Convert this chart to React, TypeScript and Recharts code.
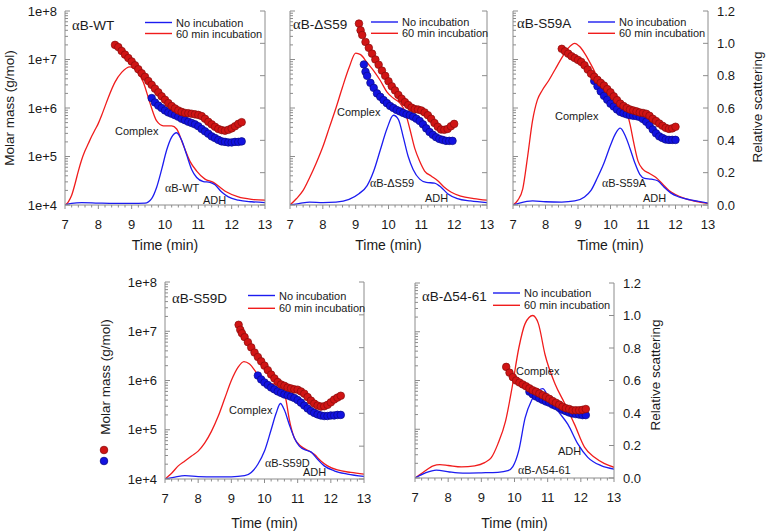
import React from 'react';
import { ComposedChart, Line, Scatter, XAxis, YAxis } from 'recharts';

type P = [number, number];

// ---------- αB-WT ----------
// relative light scattering (elution time in min, normalised signal)
const wtLightNoInc: P[] = [[7.0,0.0],[7.2,0.01],[7.5,0.015],[8.0,0.012],[8.5,0.01],[9.0,0.01],[9.4,0.012],[9.6,0.04],[9.75,0.11],[9.9,0.22],[10.05,0.34],[10.2,0.42],[10.35,0.447],[10.5,0.40],[10.65,0.31],[10.8,0.22],[10.95,0.17],[11.15,0.145],[11.35,0.14],[11.5,0.125],[11.7,0.08],[11.9,0.05],[12.2,0.03],[12.6,0.02],[13.0,0.015]];
const wtLight60: P[] = [[7.0,0.0],[7.1,0.02],[7.2,0.06],[7.3,0.13],[7.4,0.21],[7.5,0.28],[7.6,0.335],[7.7,0.38],[7.8,0.425],[7.9,0.465],[8.0,0.505],[8.1,0.555],[8.2,0.61],[8.3,0.665],[8.5,0.76],[8.7,0.82],[8.95,0.855],[9.15,0.83],[9.35,0.76],[9.55,0.63],[9.75,0.52],[9.95,0.49],[10.2,0.49],[10.35,0.47],[10.55,0.37],[10.75,0.27],[10.95,0.21],[11.2,0.16],[11.45,0.14],[11.65,0.11],[11.85,0.08],[12.2,0.05],[12.6,0.035],[13.0,0.03]];
// molar mass (g/mol)
const wtMassNoInc: P[] = [[9.6,1.6e6],[9.7,1.3e6],[9.8,1.12e6],[9.9,1.0e6],[10.0,8.9e5],[10.1,8.1e5],[10.2,7.6e5],[10.3,7.1e5],[10.4,6.6e5],[10.5,6.0e5],[10.6,5.6e5],[10.7,5.2e5],[10.8,4.9e5],[10.9,4.6e5],[11.0,4.2e5],[11.1,3.7e5],[11.2,3.3e5],[11.3,2.95e5],[11.4,2.6e5],[11.5,2.4e5],[11.6,2.2e5],[11.7,2.05e5],[11.8,2.0e5],[11.9,1.95e5],[12.0,1.95e5],[12.1,2.0e5],[12.2,2.0e5],[12.3,2.05e5]];
const wtMass60: P[] = [[8.5,2.0e7],[8.6,1.8e7],[8.7,1.5e7],[8.8,1.26e7],[8.9,1.07e7],[9.0,9.1e6],[9.1,7.6e6],[9.2,6.3e6],[9.3,5.2e6],[9.4,4.4e6],[9.5,3.6e6],[9.6,3.0e6],[9.7,2.5e6],[9.8,2.1e6],[9.9,1.74e6],[10.0,1.48e6],[10.1,1.26e6],[10.2,1.1e6],[10.3,9.8e5],[10.4,8.9e5],[10.5,8.3e5],[10.6,7.9e5],[10.7,7.8e5],[10.8,7.6e5],[10.9,7.4e5],[11.0,7.2e5],[11.1,6.8e5],[11.2,6.0e5],[11.3,5.2e5],[11.4,4.6e5],[11.5,4.1e5],[11.6,3.7e5],[11.7,3.5e5],[11.8,3.4e5],[11.9,3.55e5],[12.0,3.8e5],[12.1,4.2e5],[12.2,4.7e5],[12.3,5.1e5]];

// ---------- αB-ΔS59 ----------
const ds59LightNoInc: P[] = [[7.0,0.0],[7.3,0.01],[7.6,0.018],[8.0,0.015],[8.4,0.018],[8.8,0.035],[9.1,0.07],[9.35,0.12],[9.55,0.21],[9.75,0.34],[9.95,0.47],[10.15,0.555],[10.3,0.53],[10.45,0.42],[10.6,0.30],[10.75,0.22],[10.95,0.16],[11.15,0.14],[11.4,0.135],[11.6,0.11],[11.8,0.07],[12.1,0.04],[12.5,0.025],[13.0,0.015]];
const ds59Light60: P[] = [[7.0,0.0],[7.2,0.04],[7.4,0.09],[7.6,0.17],[7.8,0.26],[8.0,0.36],[8.2,0.48],[8.4,0.60],[8.6,0.73],[8.8,0.85],[9.0,0.94],[9.15,0.93],[9.35,0.88],[9.55,0.83],[9.75,0.77],[9.95,0.70],[10.15,0.66],[10.35,0.63],[10.5,0.58],[10.65,0.47],[10.8,0.35],[10.95,0.27],[11.1,0.21],[11.3,0.18],[11.5,0.15],[11.7,0.11],[11.9,0.08],[12.2,0.055],[12.6,0.04],[13.0,0.03]];
const ds59MassNoInc: P[] = [[9.25,7.9e6],[9.3,5.6e6],[9.35,4.6e6],[9.45,3.3e6],[9.55,2.6e6],[9.65,2.0e6],[9.75,1.7e6],[9.85,1.45e6],[9.95,1.26e6],[10.05,1.1e6],[10.15,1.0e6],[10.25,9.1e5],[10.35,8.5e5],[10.45,7.9e5],[10.55,7.4e5],[10.65,7.1e5],[10.75,6.6e5],[10.85,6.0e5],[10.95,5.4e5],[11.05,4.6e5],[11.15,3.8e5],[11.25,3.2e5],[11.35,2.8e5],[11.45,2.5e5],[11.55,2.3e5],[11.65,2.2e5],[11.75,2.1e5],[11.85,2.1e5],[11.95,2.1e5]];
const ds59Mass60: P[] = [[9.1,5.5e7],[9.15,4.0e7],[9.2,3.2e7],[9.3,2.3e7],[9.4,1.74e7],[9.5,1.32e7],[9.6,1.0e7],[9.7,7.8e6],[9.8,5.9e6],[9.9,4.6e6],[10.0,3.55e6],[10.1,2.8e6],[10.2,2.3e6],[10.3,1.86e6],[10.4,1.55e6],[10.5,1.32e6],[10.6,1.15e6],[10.7,1.02e6],[10.8,9.5e5],[10.9,9.3e5],[11.0,8.9e5],[11.1,8.1e5],[11.2,7.1e5],[11.3,6.0e5],[11.4,4.9e5],[11.5,4.1e5],[11.6,3.6e5],[11.7,3.55e5],[11.8,3.7e5],[11.9,4.2e5],[12.0,4.7e5]];

// ---------- αB-S59A ----------
const s59aLightNoInc: P[] = [[7.0,0.0],[7.2,0.012],[7.6,0.025],[8.0,0.02],[8.5,0.018],[8.9,0.025],[9.2,0.05],[9.4,0.09],[9.6,0.17],[9.8,0.26],[10.0,0.37],[10.15,0.44],[10.3,0.475],[10.45,0.43],[10.6,0.35],[10.75,0.26],[10.9,0.19],[11.05,0.165],[11.25,0.16],[11.45,0.15],[11.65,0.11],[11.85,0.075],[12.1,0.05],[12.5,0.03],[13.0,0.012]];
const s59aLight60: P[] = [[7.0,0.0],[7.15,0.03],[7.3,0.10],[7.45,0.30],[7.6,0.52],[7.75,0.65],[7.9,0.71],[8.1,0.77],[8.3,0.84],[8.5,0.91],[8.7,0.97],[8.9,1.0],[9.05,0.98],[9.2,0.94],[9.45,0.85],[9.7,0.75],[9.9,0.70],[10.1,0.66],[10.3,0.62],[10.5,0.57],[10.6,0.50],[10.7,0.40],[10.85,0.27],[11.0,0.22],[11.2,0.195],[11.4,0.17],[11.6,0.13],[11.8,0.09],[12.0,0.065],[12.3,0.04],[12.7,0.02],[13.0,0.01]];
const s59aMassNoInc: P[] = [[9.5,3.6e6],[9.6,2.8e6],[9.7,2.2e6],[9.8,1.78e6],[9.9,1.48e6],[10.0,1.23e6],[10.1,1.07e6],[10.2,9.3e5],[10.3,8.3e5],[10.4,7.8e5],[10.5,7.4e5],[10.6,7.1e5],[10.7,6.9e5],[10.8,6.8e5],[10.9,6.5e5],[11.0,5.9e5],[11.1,5.2e5],[11.2,4.4e5],[11.3,3.6e5],[11.4,3.0e5],[11.5,2.6e5],[11.6,2.4e5],[11.7,2.24e5],[11.8,2.2e5],[11.9,2.2e5],[12.0,2.2e5]];
const s59aMass60: P[] = [[8.5,1.66e7],[8.6,1.48e7],[8.7,1.32e7],[8.8,1.17e7],[8.9,1.07e7],[9.0,9.8e6],[9.1,8.9e6],[9.2,7.6e6],[9.3,6.2e6],[9.4,5.1e6],[9.5,4.4e6],[9.6,3.8e6],[9.7,3.3e6],[9.8,2.9e6],[9.9,2.45e6],[10.0,2.1e6],[10.1,1.74e6],[10.2,1.45e6],[10.3,1.23e6],[10.4,1.1e6],[10.5,1.0e6],[10.6,9.3e5],[10.7,8.9e5],[10.8,8.5e5],[10.9,8.1e5],[11.0,7.9e5],[11.1,7.6e5],[11.2,6.9e5],[11.3,6.0e5],[11.4,5.4e5],[11.5,4.8e5],[11.6,4.3e5],[11.7,3.9e5],[11.8,3.7e5],[11.9,3.8e5],[12.0,4.1e5]];

// ---------- αB-S59D ----------
const s59dLightNoInc: P[] = [[7.0,0.0],[7.3,0.012],[7.6,0.02],[8.0,0.015],[8.5,0.013],[9.0,0.013],[9.4,0.02],[9.6,0.04],[9.8,0.09],[10.0,0.17],[10.2,0.30],[10.35,0.40],[10.48,0.46],[10.6,0.42],[10.75,0.33],[10.9,0.25],[11.05,0.20],[11.25,0.175],[11.4,0.165],[11.6,0.12],[11.8,0.08],[12.1,0.05],[12.5,0.03],[13.0,0.016]];
const s59dLight60: P[] = [[7.0,0.0],[7.2,0.035],[7.4,0.08],[7.6,0.11],[7.8,0.14],[8.0,0.17],[8.2,0.22],[8.4,0.29],[8.6,0.38],[8.8,0.49],[9.0,0.60],[9.2,0.68],[9.38,0.715],[9.55,0.70],[9.75,0.65],[9.95,0.60],[10.15,0.58],[10.35,0.58],[10.55,0.56],[10.65,0.48],[10.75,0.36],[10.9,0.25],[11.1,0.20],[11.3,0.175],[11.5,0.15],[11.7,0.11],[11.9,0.08],[12.2,0.055],[12.6,0.04],[13.0,0.03]];
const s59dMassNoInc: P[] = [[9.8,1.26e6],[9.9,1.05e6],[10.0,9.1e5],[10.1,8.1e5],[10.2,7.2e5],[10.3,6.6e5],[10.4,6.0e5],[10.5,5.6e5],[10.6,5.2e5],[10.7,5.0e5],[10.8,4.7e5],[10.9,4.4e5],[11.0,4.0e5],[11.1,3.55e5],[11.2,3.1e5],[11.3,2.7e5],[11.4,2.4e5],[11.5,2.2e5],[11.6,2.05e5],[11.7,1.95e5],[11.8,1.9e5],[11.9,1.9e5],[12.0,1.95e5],[12.1,1.95e5],[12.2,2.0e5],[12.3,2.0e5]];
const s59dMass60: P[] = [[9.22,1.35e7],[9.27,1.07e7],[9.32,9.1e6],[9.4,7.6e6],[9.5,6.0e6],[9.6,4.7e6],[9.7,3.7e6],[9.8,3.0e6],[9.9,2.45e6],[10.0,2.0e6],[10.1,1.62e6],[10.2,1.32e6],[10.3,1.1e6],[10.4,9.3e5],[10.5,8.3e5],[10.6,7.8e5],[10.7,7.2e5],[10.8,6.9e5],[10.9,6.6e5],[11.0,6.5e5],[11.1,6.0e5],[11.2,5.4e5],[11.3,4.6e5],[11.4,3.9e5],[11.5,3.4e5],[11.6,3.1e5],[11.7,2.95e5],[11.8,3.0e5],[11.9,3.2e5],[12.0,3.6e5],[12.1,4.1e5],[12.2,4.5e5],[12.3,4.9e5]];

// ---------- αB-Δ54-61 ----------
const d5461LightNoInc: P[] = [[7.0,0.0],[7.3,0.03],[7.64,0.049],[8.04,0.037],[8.44,0.03],[9.0,0.032],[9.5,0.035],[9.8,0.045],[9.95,0.07],[10.13,0.17],[10.32,0.37],[10.52,0.48],[10.7,0.535],[10.85,0.55],[11.02,0.50],[11.32,0.41],[11.61,0.33],[11.91,0.21],[12.21,0.127],[12.61,0.076],[13.0,0.055]];
const d5461Light60: P[] = [[7.0,0.0],[7.25,0.035],[7.55,0.075],[7.75,0.082],[8.0,0.077],[8.4,0.068],[8.8,0.075],[9.1,0.095],[9.3,0.125],[9.5,0.21],[9.73,0.35],[9.93,0.56],[10.13,0.80],[10.32,0.95],[10.55,1.0],[10.72,0.95],[10.92,0.76],[11.22,0.58],[11.51,0.46],[11.81,0.33],[12.11,0.19],[12.41,0.127],[12.7,0.09],[13.0,0.066]];
const d5461MassNoInc: P[] = [[10.45,5.9e5],[10.55,5.2e5],[10.65,4.7e5],[10.75,4.3e5],[10.85,4.0e5],[10.95,3.7e5],[11.05,3.5e5],[11.15,3.2e5],[11.25,3.0e5],[11.35,2.75e5],[11.45,2.5e5],[11.55,2.35e5],[11.65,2.2e5],[11.75,2.1e5],[11.85,2.05e5],[11.95,2.0e5],[12.05,1.95e5],[12.15,1.95e5]];
const d5461Mass60: P[] = [[9.75,1.9e6],[9.85,1.45e6],[9.95,1.17e6],[10.05,1.0e6],[10.15,9.1e5],[10.25,8.3e5],[10.35,7.6e5],[10.45,6.9e5],[10.55,6.3e5],[10.65,5.9e5],[10.75,5.4e5],[10.85,5.0e5],[10.95,4.6e5],[11.05,4.2e5],[11.15,3.8e5],[11.25,3.5e5],[11.35,3.2e5],[11.45,2.9e5],[11.55,2.7e5],[11.65,2.6e5],[11.75,2.45e5],[11.85,2.45e5],[11.95,2.45e5],[12.05,2.5e5],[12.15,2.6e5]];

// axis ticks
const scatterTicks = [0, 0.2, 0.4, 0.6, 0.8, 1.0, 1.2];
const massDecades = [1e4, 1e5, 1e6, 1e7, 1e8];
const timeTicks: number[] = [];
for (let i = 0; i <= 30; i++) timeTicks.push(Math.round((7 + i * 0.2) * 10) / 10);
const massTicks: number[] = [];
massDecades.forEach((d, i) => {
  massTicks.push(d);
  if (i < massDecades.length - 1) for (let k = 2; k <= 9; k++) massTicks.push(d * k);
});

const FONT = '"Liberation Sans", Arial, sans-serif';
const SERIF = '"Liberation Serif", "Times New Roman", serif';
const INK = '#1a1a1a';
const AXIS = '#8c8c8c';
const RED_LINE = '#f01c1c';
const BLUE_LINE = '#1c1cf0';
const RED_DOT = '#d01414';
const RED_EDGE = '#8a0c0c';
const BLUE_DOT = '#1212e0';
const BLUE_EDGE = '#0a0a86';

const ML = 60;
const MR = 60;
const MT = 12;
const XH = 40;

const toPts = (a: P[]) => a.map(([t, v]) => ({ t, v }));

interface PanelCfg {
  x0: number; y0: number; w: number; h: number;
  leftLabels: boolean; rightLabels: boolean; titleGap: number;
  lightNoInc: P[]; light60: P[]; massNoInc: P[]; mass60: P[];
}

const panels: PanelCfg[] = [
  { x0: 65, y0: 11, w: 200, h: 194, leftLabels: true, rightLabels: false, titleGap: 45, lightNoInc: wtLightNoInc, light60: wtLight60, massNoInc: wtMassNoInc, mass60: wtMass60 },
  { x0: 290, y0: 11, w: 197, h: 194, leftLabels: false, rightLabels: false, titleGap: 45, lightNoInc: ds59LightNoInc, light60: ds59Light60, massNoInc: ds59MassNoInc, mass60: ds59Mass60 },
  { x0: 513, y0: 11, w: 195, h: 194, leftLabels: false, rightLabels: true, titleGap: 45, lightNoInc: s59aLightNoInc, light60: s59aLight60, massNoInc: s59aMassNoInc, mass60: s59aMass60 },
  { x0: 165, y0: 282, w: 199, h: 197, leftLabels: true, rightLabels: false, titleGap: 48.5, lightNoInc: s59dLightNoInc, light60: s59dLight60, massNoInc: s59dMassNoInc, mass60: s59dMass60 },
  { x0: 415, y0: 283, w: 199, h: 195, leftLabels: false, rightLabels: true, titleGap: 49.5, lightNoInc: d5461LightNoInc, light60: d5461Light60, massNoInc: d5461MassNoInc, mass60: d5461Mass60 },
];

const isWhole = (v: number) => Math.abs(v - Math.round(v)) < 1e-6;

function Panel({ cfg }: { cfg: PanelCfg }) {
  const { x0, y0, w, h } = cfg;

  const timeTick = (p: any) => {
    const v = p.payload.value;
    const major = isWhole(v);
    return (
      <g>
        <line x1={p.x} x2={p.x} y1={p.y} y2={p.y + (major ? 4 : 2.5)} stroke={AXIS} strokeWidth={1} />
        {major && (
          <text x={p.x} y={p.y + 23.5} textAnchor="middle" fontSize={13} fontFamily={FONT} fill={INK}>
            {Math.round(v)}
          </text>
        )}
      </g>
    );
  };

  const massTick = (p: any) => {
    const v = p.payload.value;
    const e = Math.log10(v);
    const major = isWhole(e);
    return (
      <g>
        <line x1={p.x} x2={p.x + (major ? 5 : 3)} y1={p.y} y2={p.y} stroke={AXIS} strokeWidth={1} />
        {major && cfg.leftLabels && (
          <text x={p.x - 8} y={p.y + 4.5} textAnchor="end" fontSize={13} fontFamily={FONT} fill={INK}>
            {`1e+${Math.round(e)}`}
          </text>
        )}
      </g>
    );
  };

  const lightTick = (p: any) => {
    const v = p.payload.value;
    return (
      <g>
        <line x1={p.x} x2={p.x - 5} y1={p.y} y2={p.y} stroke={AXIS} strokeWidth={1} />
        {cfg.rightLabels && (
          <text x={p.x + 9} y={p.y + 4.5} textAnchor="start" fontSize={13} fontFamily={FONT} fill={INK}>
            {v.toFixed(1)}
          </text>
        )}
      </g>
    );
  };

  const dot = (fill: string, edge: string) => (p: any) => (
    <circle cx={p.cx} cy={p.cy} r={3.8} fill={fill} stroke={edge} strokeWidth={0.7} />
  );

  return (
    <div style={{ position: 'absolute', left: x0 - ML, top: y0 - MT }}>
      <ComposedChart width={w + ML + MR} height={h + MT + XH} margin={{ top: MT, right: 0, bottom: 0, left: 0 }}>
        <XAxis
          type="number"
          dataKey="t"
          domain={[7, 13]}
          ticks={timeTicks}
          interval={0}
          allowDataOverflow
          height={XH}
          tickSize={0}
          tickMargin={0}
          tickLine={false}
          axisLine={{ stroke: AXIS }}
          tick={timeTick}
        />
        <YAxis
          yAxisId="mass"
          orientation="left"
          scale="log"
          domain={[1e4, 1e8]}
          ticks={massTicks}
          interval={0}
          allowDataOverflow
          width={ML}
          tickSize={0}
          tickMargin={0}
          tickLine={false}
          axisLine={{ stroke: AXIS }}
          tick={massTick}
        />
        <YAxis
          yAxisId="light"
          orientation="right"
          domain={[0, 1.2]}
          ticks={scatterTicks}
          interval={0}
          allowDataOverflow
          width={MR}
          tickSize={0}
          tickMargin={0}
          tickLine={false}
          axisLine={{ stroke: AXIS }}
          tick={lightTick}
        />
        <Line yAxisId="light" data={toPts(cfg.light60)} dataKey="v" type="monotone" stroke={RED_LINE} strokeWidth={1.3} dot={false} isAnimationActive={false} />
        <Line yAxisId="light" data={toPts(cfg.lightNoInc)} dataKey="v" type="monotone" stroke={BLUE_LINE} strokeWidth={1.3} dot={false} isAnimationActive={false} />
        <Scatter yAxisId="mass" data={toPts(cfg.massNoInc)} dataKey="v" shape={dot(BLUE_DOT, BLUE_EDGE)} isAnimationActive={false} />
        <Scatter yAxisId="mass" data={toPts(cfg.mass60)} dataKey="v" shape={dot(RED_DOT, RED_EDGE)} isAnimationActive={false} />
      </ComposedChart>
    </div>
  );
}

// Names drawn with a serif alpha, as in the protein labels
function Name({ x, y, text, size }: { x: number; y: number; text: string; size: number }) {
  const rest = text.startsWith('α') ? text.slice(1) : text;
  return (
    <text x={x} y={y} fontSize={size} fontFamily={FONT} fill={INK}>
      {text.startsWith('α') && <tspan fontFamily={SERIF} fontSize={size * 1.08}>α</tspan>}
      {rest}
    </text>
  );
}

interface PanelText {
  title: string; tx: number; ty: number;
  legX: number; legY: number; legGap: number;
  notes: [string, number, number][];
}

const panelTexts: PanelText[] = [
  { title: 'αB-WT', tx: 72, ty: 30, legX: 145, legY: 22.5, legGap: 11, notes: [['Complex', 115, 134.5], ['αB-WT', 165, 191.5], ['ADH', 203, 203.5]] },
  { title: 'αB-ΔS59', tx: 293, ty: 28.5, legX: 371, legY: 22, legGap: 11.3, notes: [['Complex', 337, 116], ['αB-ΔS59', 370, 186.5], ['ADH', 425, 201.5]] },
  { title: 'αB-S59A', tx: 517, ty: 27.5, legX: 588, legY: 22, legGap: 11.3, notes: [['Complex', 555, 120], ['αB-S59A', 602, 186.5], ['ADH', 643, 201.5]] },
  { title: 'αB-S59D', tx: 172, ty: 302.5, legX: 248, legY: 295.5, legGap: 12.8, notes: [['Complex', 229, 414], ['αB-S59D', 265, 466.5], ['ADH', 303, 475.5]] },
  { title: 'αB-Δ54-61', tx: 422, ty: 301, legX: 493, legY: 293, legGap: 12.3, notes: [['Complex', 516, 375], ['ADH', 558, 455], ['αB-Λ54-61', 518, 474]] },
];

function Overlay() {
  return (
    <svg width={768} height={532} style={{ position: 'absolute', left: 0, top: 0, pointerEvents: 'none' }}>
      {panelTexts.map((p, i) => (
        <g key={i}>
          <Name x={p.tx} y={p.ty} text={p.title} size={13.5} />
          <line x1={p.legX} x2={p.legX + 27} y1={p.legY} y2={p.legY} stroke={BLUE_LINE} strokeWidth={1.4} />
          <line x1={p.legX} x2={p.legX + 27} y1={p.legY + p.legGap} y2={p.legY + p.legGap} stroke={RED_LINE} strokeWidth={1.4} />
          <text x={p.legX + 31} y={p.legY + 4} fontSize={11} fontFamily={FONT} fill={INK}>No incubation</text>
          <text x={p.legX + 31} y={p.legY + p.legGap + 4} fontSize={11} fontFamily={FONT} fill={INK}>60 min incubation</text>
          {p.notes.map(([s, x, y], j) => (
            <Name key={j} x={x} y={y} text={s} size={11} />
          ))}
        </g>
      ))}

      {/* axis titles */}
      <text transform="translate(13.5,108) rotate(-90)" textAnchor="middle" fontSize={13.5} fontFamily={FONT} fill={INK}>Molar mass (g/mol)</text>
      <text transform="translate(110,377) rotate(-90)" textAnchor="middle" fontSize={13.5} fontFamily={FONT} fill={INK}>Molar mass (g/mol)</text>
      <circle cx={104} cy={450} r={3.8} fill={RED_DOT} stroke={RED_EDGE} strokeWidth={0.8} />
      <circle cx={104} cy={461} r={3.8} fill={BLUE_DOT} stroke={BLUE_EDGE} strokeWidth={0.8} />
      <text transform="translate(761.5,107) rotate(-90)" textAnchor="middle" fontSize={13.5} fontFamily={FONT} fill={INK}>Relative scattering</text>
      <text transform="translate(660,375) rotate(-90)" textAnchor="middle" fontSize={13.5} fontFamily={FONT} fill={INK}>Relative scattering</text>
      {panels.map((c, i) => (
        <text key={i} x={c.x0 + c.w / 2} y={c.y0 + c.h + c.titleGap} textAnchor="middle" fontSize={14} fontFamily={FONT} fill={INK}>
          Time (min)
        </text>
      ))}
    </svg>
  );
}

export default function App() {
  return (
    <div style={{ position: 'absolute', left: 0, top: 0, width: 768, height: 532, background: '#ffffff', overflow: 'hidden' }}>
      {panels.map((c, i) => (
        <Panel key={i} cfg={c} />
      ))}
      <Overlay />
    </div>
  );
}
